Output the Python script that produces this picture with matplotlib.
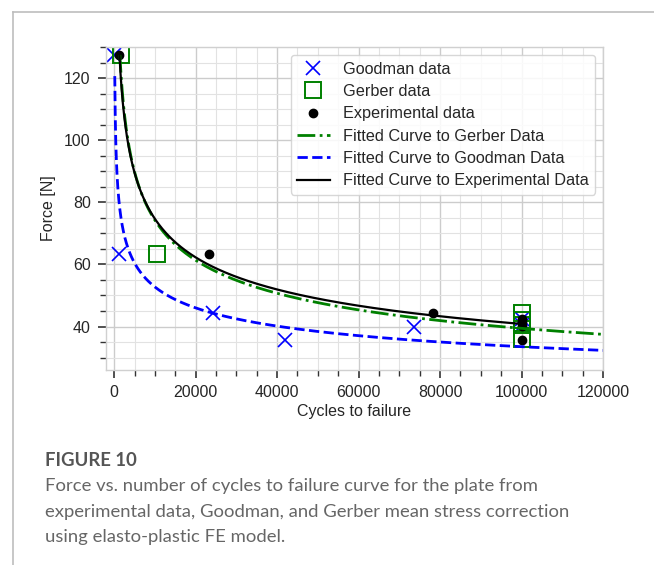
import matplotlib
matplotlib.use("Agg")
from matplotlib import pyplot as plt
from matplotlib.lines import Line2D
from matplotlib.ticker import MultipleLocator
import numpy as np

# puntos
goodman_n = [0, 1200, 24200, 41900, 73700, 100000, 100000]
goodman_f = [127.5, 63.5, 44.3, 35.6, 40.0, 42.5, 40.5]
gerber_n = [1600, 10600, 100000, 100000, 100000, 100000]
gerber_f = [127.5, 63.5, 44.5, 42.0, 40.5, 36.0]
exp_n = [1300, 23300, 78300, 100000, 100000, 100000, 100000]
exp_f = [127.5, 63.5, 44.5, 42.3, 41.3, 40.3, 35.6]

# curvas ajustadas F = a * N^b (coeficientes estimados de la figura)
gerber_fit = (934.6, -0.275)
goodman_fit = (323.7, -0.197)
exp_fit = (834.0, -0.262)
gerber_range = (1400, 120000)
goodman_range = (150, 120000)
exp_range = (1300, 100000)

caption_title = "FIGURE 10"
caption_lines = [
    "Force vs. number of cycles to failure curve for the plate from",
    "experimental data, Goodman, and Gerber mean stress correction",
    "using elasto-plastic FE model.",
]

plt.rcParams['font.family'] = ['Liberation Sans', 'DejaVu Sans']


def fitted(params, rng):
    n = np.linspace(rng[0], rng[1], 3000)
    return n, params[0] * n ** params[1]


fig = plt.figure(figsize=(6.54, 5.65), dpi=100)
ax = fig.add_axes([0.1621, 0.3451, 0.760, 0.5717])

ax.plot(goodman_n, goodman_f, 'x', color='b', markersize=10.5, mew=1.2,
        linestyle='none', label='Goodman data')
ax.plot(gerber_n, gerber_f, 's', mfc='none', mec='g', markersize=11, mew=1.4,
        linestyle='none', label='Gerber data')
ax.plot(exp_n, exp_f, 'o', color='k', markersize=6, linestyle='none',
        label='Experimental data')

n, f = fitted(gerber_fit, gerber_range)
ax.plot(n, f, '-.', color='g', linewidth=2, label='Fitted Curve to Gerber Data')
n, f = fitted(goodman_fit, goodman_range)
ax.plot(n, f, '--', color='b', linewidth=2, label='Fitted Curve to Goodman Data')
n, f = fitted(exp_fit, exp_range)
ax.plot(n, f, '-', color='k', linewidth=1.6, label='Fitted Curve to Experimental Data')

ax.set_xlim(-2000, 120000)
ax.set_ylim(26, 130)
ax.xaxis.set_major_locator(MultipleLocator(20000))
ax.xaxis.set_minor_locator(MultipleLocator(5000))
ax.yaxis.set_major_locator(MultipleLocator(20))
ax.yaxis.set_minor_locator(MultipleLocator(5))
ax.grid(which='major', color='#cccccc', linewidth=1.0)
ax.grid(which='minor', color='#e2e2e2', linewidth=0.8)
ax.set_axisbelow(True)
for s in ax.spines.values():
    s.set_color('#d0d0d0')
    s.set_linewidth(1.0)
ax.tick_params(which='major', length=6, width=1.2, color='#333333',
               labelsize=11.5, labelcolor='#262626', pad=5)
ax.tick_params(which='minor', length=4, width=1.0, color='#333333')

ax.set_xlabel("Cycles to failure", fontsize=11.5, color='#262626', labelpad=3)
ax.set_ylabel("Force [N]", fontsize=11.5, color='#262626', labelpad=6)

leg = ax.legend(loc='upper right', fontsize=11.7, frameon=True, framealpha=0.85,
                edgecolor='#d0d0d0', borderpad=0.4, labelspacing=0.45)
for t in leg.get_texts():
    t.set_color('#262626')

# marco de la pagina
fig.add_artist(Line2D([13 / 654, 1], [1 - 12 / 565, 1 - 12 / 565],
                      color='#bdbdbd', linewidth=1.2))
fig.add_artist(Line2D([13 / 654, 13 / 654], [0, 1 - 12 / 565],
                      color='#bdbdbd', linewidth=1.2))

fig.text(45 / 654, 1 - 461 / 565, caption_title, fontsize=13.3, fontweight='bold',
         family='Lato', color='#555555', va='center')
for i, line in enumerate(caption_lines):
    fig.text(45 / 654, 1 - (486 + 25.5 * i) / 565, line, fontsize=13.3,
             family='Lato', color='#666666', va='center')

fig.savefig("out.png", dpi=100)
